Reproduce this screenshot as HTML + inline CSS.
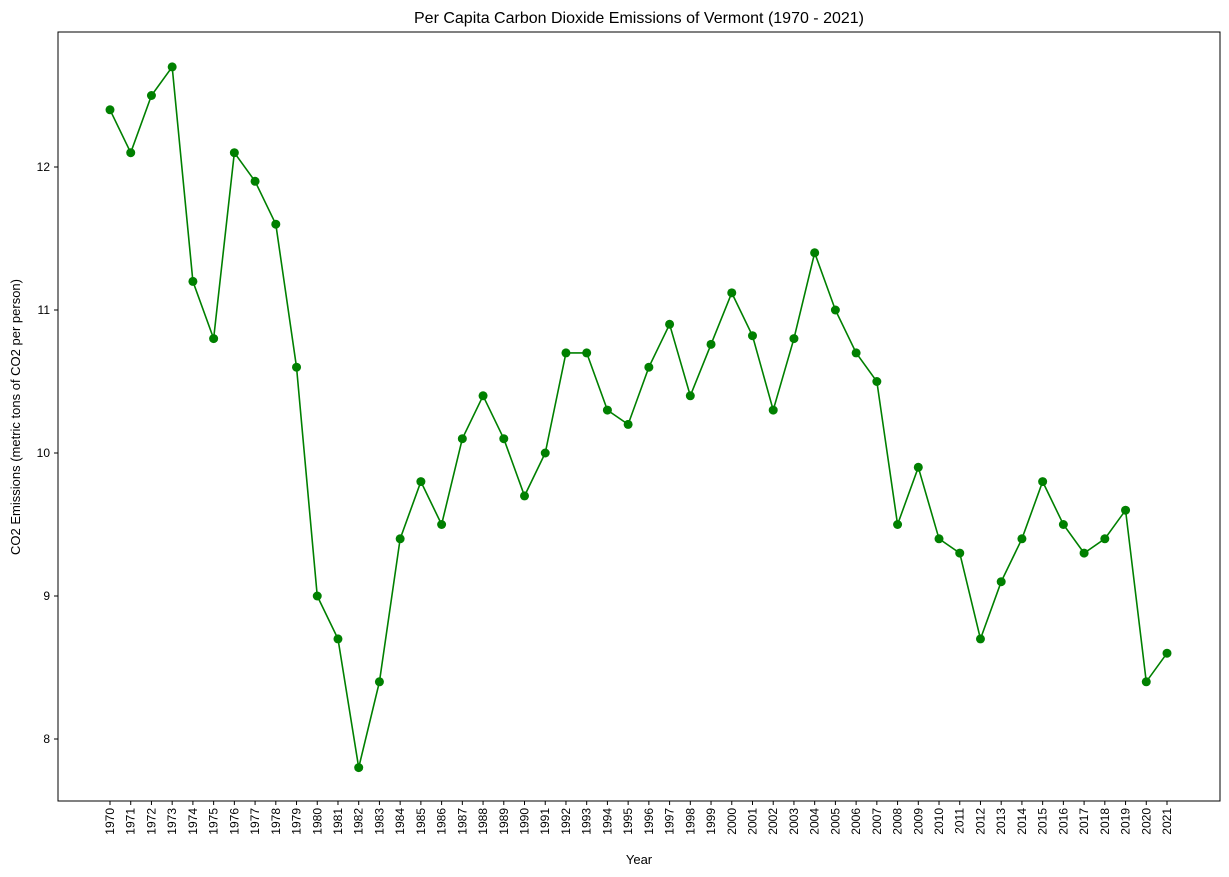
<!DOCTYPE html>
<html><head><meta charset="utf-8"><style>
body{margin:0;background:#fff;font-family:"Liberation Sans","DejaVu Sans",sans-serif;}
svg{display:block}
</style></head><body>
<svg id="chart" width="1229" height="877">
<rect x="0" y="0" width="1229" height="877" fill="#fff"/>
<text x="639" y="23" text-anchor="middle" font-size="16">Per Capita Carbon Dioxide Emissions of Vermont (1970 - 2021)</text>
<text x="639" y="864" text-anchor="middle" font-size="13">Year</text>
<text transform="translate(20,417) rotate(-90)" text-anchor="middle" font-size="13">CO2 Emissions (metric tons of CO2 per person)</text>
<g id="plot"></g>
<rect x="58" y="32" width="1162" height="769" fill="none" stroke="#000" stroke-width="1"/>
</svg>
<script>
const years = [1970,1971,1972,1973,1974,1975,1976,1977,1978,1979,1980,1981,1982,1983,1984,1985,1986,1987,1988,1989,1990,1991,1992,1993,1994,1995,1996,1997,1998,1999,2000,2001,2002,2003,2004,2005,2006,2007,2008,2009,2010,2011,2012,2013,2014,2015,2016,2017,2018,2019,2020,2021];
const emissions = [12.4,12.1,12.5,12.7,11.2,10.8,12.1,11.9,11.6,10.6,9.0,8.7,7.8,8.4,9.4,9.8,9.5,10.1,10.4,10.1,9.7,10.0,10.7,10.7,10.3,10.2,10.6,10.9,10.4,10.76,11.12,10.82,10.3,10.8,11.4,11.0,10.7,10.5,9.5,9.9,9.4,9.3,8.7,9.1,9.4,9.8,9.5,9.3,9.4,9.6,8.4,8.6];
const yTicks = [8,9,10,11,12];
const NS="http://www.w3.org/2000/svg";
const g=document.getElementById('plot');
function xS(yr){return 110+(yr-1970)*(1167-110)/51;}
function yS(v){return 739-(v-8)*143;}
function mk(t,a){const e=document.createElementNS(NS,t);for(const k in a)e.setAttribute(k,a[k]);g.appendChild(e);return e;}
yTicks.forEach(v=>{
  const tk=mk('line',{x1:54,x2:58,y1:yS(v),y2:yS(v),stroke:'#000'});
  
  
  const t=mk('text',{x:50,y:yS(v)+4,'text-anchor':'end','font-size':12});
  t.textContent=v;
  
  
});
years.forEach(yr=>{
  const x=xS(yr);
  const tk=mk('line',{x1:x,x2:x,y1:801,y2:805,stroke:'#000'});
  
  
  const t=mk('text',{transform:`translate(${x+4},808) rotate(-90)`,'text-anchor':'end','font-size':12});
  t.textContent=yr;
  
  
});
const pts=years.map((yr,i)=>xS(yr)+','+yS(emissions[i])).join(' ');
const line=mk('polyline',{points:pts,fill:'none',stroke:'#008000','stroke-width':1.6});


years.forEach((yr,i)=>{
  const c=mk('circle',{cx:xS(yr),cy:yS(emissions[i]),r:4.5,fill:'#008000'});
  
  
});
</script>
</body></html>
